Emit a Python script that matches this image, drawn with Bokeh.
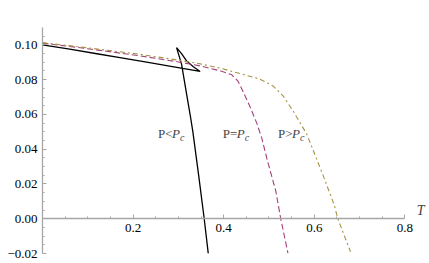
from bokeh.plotting import figure
from bokeh.models import FixedTicker, Label
from bokeh.embed import file_html
from bokeh.resources import INLINE

# ---- data ----
black_T = [0.0, 0.06, 0.12, 0.171, 0.23, 0.29, 0.348, 0.333, 0.318, 0.307, 0.296,
           0.307, 0.316, 0.326, 0.332, 0.345, 0.357, 0.366]
black_G = [0.1000, 0.0975, 0.0949, 0.0927, 0.0901, 0.0874, 0.0847, 0.0874, 0.0908, 0.0950, 0.0984,
           0.0889, 0.0750, 0.0598, 0.0500, 0.0245, 0.0, -0.0201]

mag_T = [0.0, 0.1, 0.215, 0.3, 0.348, 0.392, 0.418, 0.432, 0.443, 0.458, 0.473, 0.484, 0.496, 0.515, 0.526, 0.542]
mag_G = [0.1010, 0.0978, 0.0937, 0.0902, 0.0879, 0.0851, 0.0828, 0.0790, 0.0730, 0.0645, 0.0550, 0.0465,
         0.0340, 0.0160, 0.0, -0.0199]

ol_T = [0.0, 0.1, 0.215, 0.3, 0.348, 0.392, 0.436, 0.480, 0.509, 0.531, 0.553, 0.583, 0.599, 0.622, 0.644, 0.652, 0.680]
ol_G = [0.1013, 0.0983, 0.0946, 0.0912, 0.0891, 0.0866, 0.0835, 0.0803, 0.0764, 0.0707, 0.0621, 0.0489,
        0.0385, 0.0232, 0.0080, 0.0, -0.019]

x_major = [0.2, 0.4, 0.6, 0.8]
x_minor = [0.05, 0.1, 0.15, 0.25, 0.3, 0.35, 0.45, 0.5, 0.55, 0.65, 0.7, 0.75]
y_major = [-0.02, 0.0, 0.02, 0.04, 0.06, 0.08, 0.10]
y_major_labels = ["\u22120.02", "0.00", "0.02", "0.04", "0.06", "0.08", "0.10"]
y_minor = [-0.015, -0.01, -0.005, 0.005, 0.01, 0.015, 0.025, 0.03, 0.035, 0.045, 0.05, 0.055,
           0.065, 0.07, 0.075, 0.085, 0.09, 0.095, 0.105]

curve_labels = ["P<", "P=", "P>"]
label_T = [0.255, 0.398, 0.520]
label_G = [0.0489, 0.0489, 0.0489]

FONT = "'Liberation Serif', 'Times New Roman', serif"
AXIS_COL = "#a6a6a6"

p = figure(width=429, height=263, x_range=(0, 0.85), y_range=(-0.02, 0.11),
           output_backend="svg", toolbar_location=None,
           min_border_left=42, min_border_right=2, min_border_top=27, min_border_bottom=10)
p.grid.visible = False
p.outline_line_color = None
p.background_fill_color = "white"
p.border_fill_color = "white"

# axes
p.xaxis.fixed_location = 0
p.xaxis.bounds = (0, 0.8)
p.xaxis.ticker = FixedTicker(ticks=x_major, minor_ticks=x_minor)
p.yaxis.ticker = FixedTicker(ticks=y_major, minor_ticks=y_minor)
p.yaxis.major_label_overrides = {v: s for v, s in zip(y_major, y_major_labels)}
for ax in (p.xaxis[0], p.yaxis[0]):
    ax.axis_line_color = AXIS_COL
    ax.axis_line_width = 1.3
    ax.major_tick_line_color = AXIS_COL
    ax.minor_tick_line_color = AXIS_COL
    ax.major_tick_in = 4
    ax.major_tick_out = 0
    ax.minor_tick_in = 2
    ax.minor_tick_out = 0
    ax.major_label_text_font = FONT
    ax.major_label_text_font_size = "13px"
    ax.major_label_text_color = "black"
    ax.major_label_standoff = 5

# curves
p.line(black_T, black_G, line_color="black", line_width=1.3)
p.line(mag_T, mag_G, line_color="#a3407a", line_width=1.1, line_dash="6 3")
p.line(ol_T, ol_G, line_color="#a39442", line_width=1.1, line_dash="5 3 2 3")

# curve labels: "P<" upright, "P" italic, subscript "c"
for t, g, s in zip(label_T, label_G, curve_labels):
    p.add_layout(Label(x=t, y=g, text=s, text_font=FONT, text_font_size="13px",
                       text_baseline="middle", text_align="left"))
    p.add_layout(Label(x=t, y=g, x_offset=14, text="P", text_font=FONT, text_font_size="13px",
                       text_font_style="italic", text_baseline="middle", text_align="left"))
    p.add_layout(Label(x=t, y=g, x_offset=22, y_offset=-4, text="c", text_font=FONT,
                       text_font_size="10px", text_font_style="italic",
                       text_baseline="middle", text_align="left"))

# axis label T
p.add_layout(Label(x=0.8, y=0, x_offset=12, y_offset=1, text="T", text_font=FONT,
                   text_font_size="14px", text_font_style="italic",
                   text_baseline="bottom", text_align="left"))

open("out.html", "w").write(file_html(p, INLINE))
